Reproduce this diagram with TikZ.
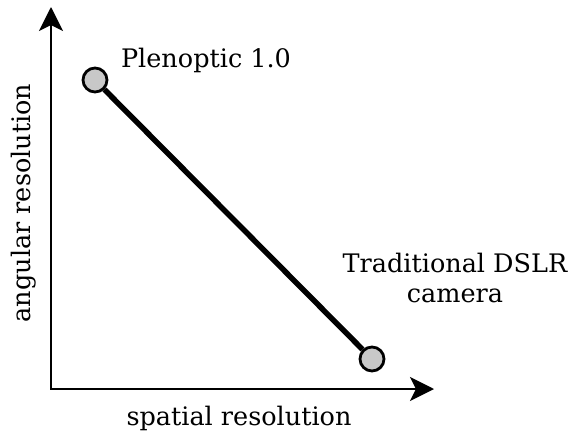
\documentclass[tikz,border=0pt]{standalone}
\usepackage{fontspec}
\setmainfont{DejaVu Serif}
\usetikzlibrary{arrows.meta}
\definecolor{dotgray}{HTML}{C8C8C8}
\begin{document}
\begin{tikzpicture}[x=1pt,y=-1pt,
  axis/.style={line width=2.5pt,-{Stealth[length=24pt,width=24pt,inset=6pt]}},
  dot/.style={circle,draw=black,line width=2.8pt,fill=dotgray,minimum size=24pt,inner sep=0pt},
  lbl/.style={font=\fontsize{25.5}{30}\selectfont,inner sep=0pt,align=center}]
\useasboundingbox (0,0) rectangle (577,435);
\coordinate (o) at (51,389);
\coordinate (ytip) at (51,7);
\coordinate (xtip) at (434,389);
\draw[axis,line cap=rect] (o) -- (ytip);
\draw[axis] (o) -- (xtip);
\node[dot] (p) at (95,80) {};
\node[dot] (d) at (372,359) {};
\draw[line width=5.5pt] (p) -- (d);
\node[lbl] (pl) at (206,60) {Plenoptic 1.0};
\node[lbl] (dl) at (455,278) {Traditional DSLR\\camera};
\node[lbl,rotate=90] (yl) at (24,203) {angular resolution};
\node[lbl] (xl) at (239,418) {spatial resolution};
\end{tikzpicture}
\end{document}
